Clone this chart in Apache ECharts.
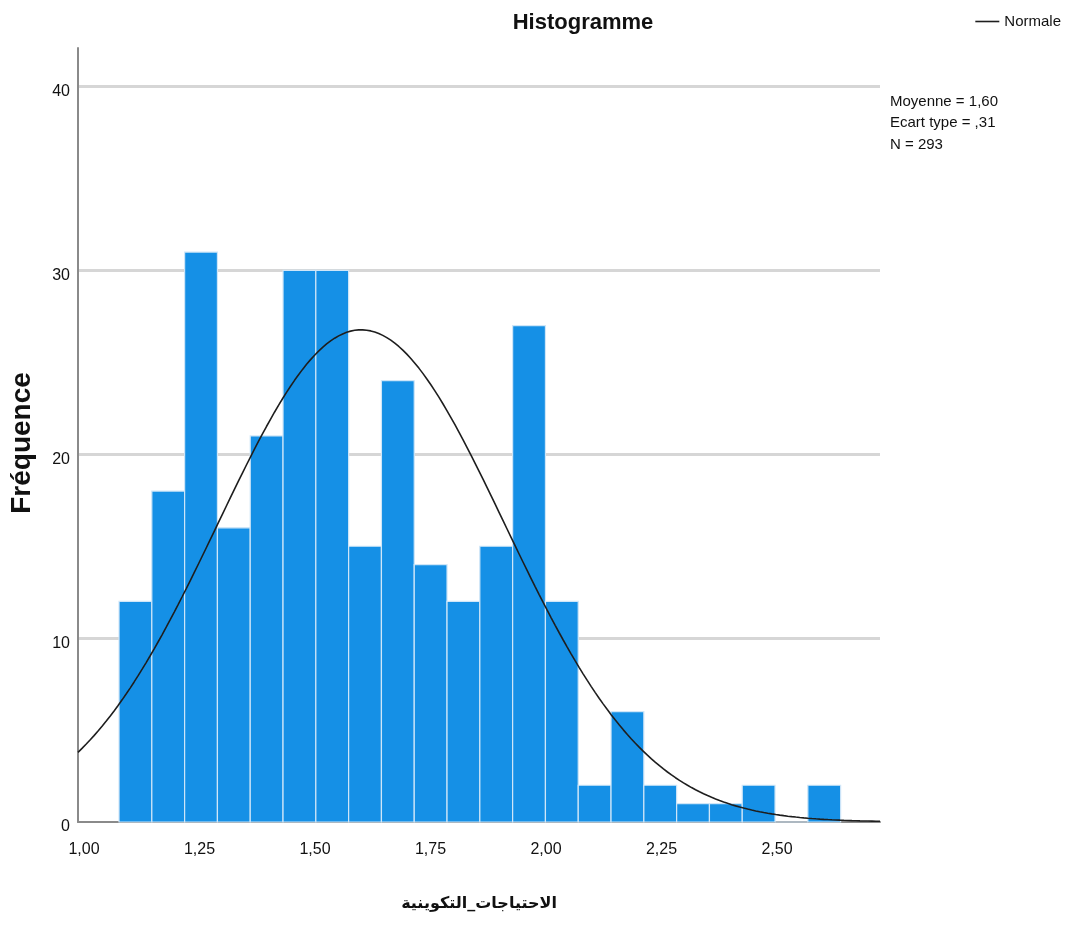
<!DOCTYPE html>
<html>
<head>
<meta charset="utf-8">
<script src="https://cdn.jsdelivr.net/npm/echarts@6/dist/echarts.min.js"></script>
<style>
html,body{margin:0;padding:0;background:#fff;}
#chart{width:1066px;height:925px;}
</style>
</head>
<body>
<div id="chart"></div>
<script>
// ---- data ----
const binStart = 1.0758;      // left edge of first bin
const binWidth = 0.0710;      // width of each bin
const counts = [12, 18, 31, 16, 21, 30, 30, 15, 24, 14, 12, 15, 27, 12, 2, 6, 2, 1, 1, 2, 0, 2];
const xTickValues = [1.00, 1.25, 1.50, 1.75, 2.00, 2.25, 2.50];
const yTickValues = [0, 10, 20, 30, 40];
const MEAN = 1.60, SD = 0.31, N = 293;
const statsLines = ['Moyenne = 1,60', 'Ecart type = ,31', 'N = 293'];
const xMin = 0.987, xMax = 2.723, yMax = 42.1;

// build histogram data [lo, hi, count]
const histData = counts.map((c, i) => [binStart + i * binWidth, binStart + (i + 1) * binWidth, c]);

// normal curve implied by the displayed statistics (scaled to counts per bin)
const curveData = [];
const steps = 200;
for (let k = 0; k <= steps; k++) {
  const x = xMin + (xMax - xMin) * k / steps;
  const z = (x - MEAN) / SD;
  const y = N * binWidth / (SD * Math.sqrt(2 * Math.PI)) * Math.exp(-0.5 * z * z);
  curveData.push([x, y]);
}

const sans = "'Liberation Sans', Arial, sans-serif";
const fmt = v => v.toFixed(2).replace('.', ',');

const chart = echarts.init(document.getElementById('chart'), null, {renderer: 'canvas'});
chart.setOption({
  animation: false,
  backgroundColor: '#fff',
  grid: {left: 78, right: 186, top: 48, bottom: 103, containLabel: false, outerBoundsMode: 'none'},
  legend: {
    data: [{name: 'Normale', icon: 'rect'}],
    right: 0, top: 9,
    itemWidth: 24, itemHeight: 1.6, itemGap: 4,
    itemStyle: {color: '#1e1e1e'},
    textStyle: {fontFamily: sans, fontSize: 15, color: '#111'},
    selectedMode: false
  },
  xAxis: {
    type: 'value', min: xMin, max: xMax,
    axisLine: {show: true, onZero: false, lineStyle: {color: '#8a8a8a', width: 2}},
    axisTick: {show: false},
    splitLine: {show: false},
    axisLabel: {
      customValues: xTickValues,
      formatter: fmt,
      margin: 20,
      fontFamily: sans, fontSize: 16, color: '#111'
    },
    name: 'الاحتياجات_التكوينية',
    nameLocation: 'middle', nameGap: 74,
    nameTextStyle: {fontFamily: "'DejaVu Sans', sans-serif", fontSize: 16, fontWeight: 'bold', color: '#111'}
  },
  yAxis: {
    type: 'value', min: 0, max: yMax, interval: 10,
    axisLine: {show: true, lineStyle: {color: '#8a8a8a', width: 2}},
    axisTick: {show: false},
    splitLine: {show: true, showMinLine: false, showMaxLine: false, lineStyle: {color: '#d6d6d6', width: 3}},
    axisLabel: {
      customValues: yTickValues,
      margin: 8,
      verticalAlign: 'top',
      lineHeight: 10,
      fontFamily: sans, fontSize: 16, color: '#111'
    },
    name: 'Fréquence',
    nameLocation: 'middle', nameGap: 42, nameRotate: 90,
    nameTextStyle: {fontFamily: sans, fontSize: 28, fontWeight: 'bold', color: '#111', padding: [0, 16, 0, 0]}
  },
  series: [
    {
      name: 'Histogram',
      type: 'custom',
      data: histData,
      encode: {x: [0, 1], y: 2},
      z: 2,
      renderItem: function (params, api) {
        const p0 = api.coord([api.value(0), 0]);
        const p1 = api.coord([api.value(1), api.value(2)]);
        return {
          type: 'rect',
          shape: {x: p0[0], y: p1[1], width: p1[0] - p0[0], height: p0[1] - p1[1]},
          style: {fill: '#1590e6', stroke: '#cfe6f8', lineWidth: 1.2}
        };
      }
    },
    {
      name: 'Normale',
      type: 'line',
      data: curveData,
      symbol: 'none',
      smooth: false,
      z: 5,
      lineStyle: {color: '#1e1e1e', width: 1.6},
      itemStyle: {color: '#1e1e1e'}
    }
  ],
  graphic: [
    {
      type: 'text', x: 583, y: 23,
      style: {text: 'Histogramme', font: "bold 22px 'Liberation Sans', Arial", fill: '#111', align: 'center', verticalAlign: 'middle'}
    },
    {
      type: 'text', x: 890, y: 91,
      style: {text: statsLines.join('\n'), font: "15px 'Liberation Sans', Arial", lineHeight: 21.5, fill: '#111', align: 'left', verticalAlign: 'top'}
    }
  ]
});
</script>
</body>
</html>
